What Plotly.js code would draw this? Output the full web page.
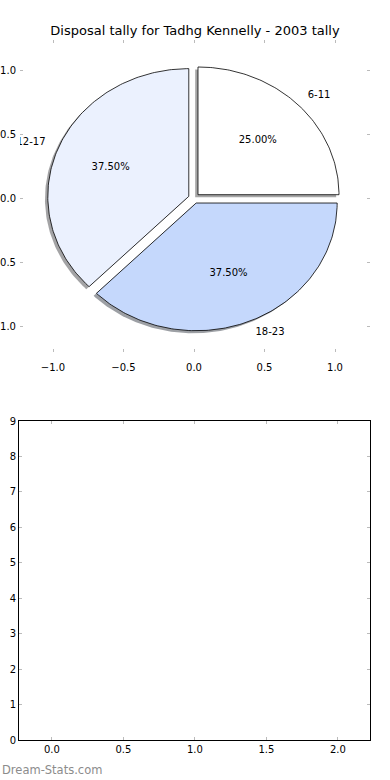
<!DOCTYPE html>
<html>
<head>
<meta charset="utf-8">
<script src="https://cdn.plot.ly/plotly-3.0.1.min.js"></script>
<style>
html,body{margin:0;padding:0;background:#fff;}
#chart{width:390px;height:780px;}
</style>
</head>
<body>
<div id="chart"></div>
<script>
// ---- data ----
var titleText = "Disposal tally for Tadhg Kennelly - 2003 tally";
var categories = ["6-11", "12-17", "18-23"];
var tallies = [2, 3, 3];
var sliceColors = ["#ffffff", "#ebf1fe", "#c5d8fc"];
var pieTicks = [-1.0, -0.5, 0.0, 0.5, 1.0];
var lowerXTicks = [0.0, 0.5, 1.0, 1.5, 2.0];
var lowerYTicks = [0, 1, 2, 3, 4, 5, 6, 7, 8, 9];
var watermark = "Dream-Stats.com";

// ---- geometry helpers (derived from data) ----
var explode = 0.04, radius = 1.0, shadowOff = 0.02;
var total = tallies.reduce(function(a, b){return a + b;}, 0);

function hexToRgb(h){
  h = h.replace('#','');
  return [parseInt(h.substr(0,2),16), parseInt(h.substr(2,2),16), parseInt(h.substr(4,2),16)];
}

var wedgeTraces = [], shadowTraces = [], textTraces = [];
var start = 0;
var labX = [], labY = [], labPos = [], pctX = [], pctY = [], pctT = [];
for (var i = 0; i < tallies.length; i++) {
  var frac = tallies[i] / total;
  var t1 = start, t2 = start + frac * 360;
  var mid = (t1 + t2) / 2 * Math.PI / 180;
  var cx = explode * Math.cos(mid), cy = explode * Math.sin(mid);
  var xs = [cx], ys = [cy];
  var n = Math.max(2, Math.ceil(t2 - t1));
  for (var k = 0; k <= n; k++) {
    var a = (t1 + (t2 - t1) * k / n) * Math.PI / 180;
    xs.push(cx + radius * Math.cos(a));
    ys.push(cy + radius * Math.sin(a));
  }
  xs.push(cx); ys.push(cy);
  var rgb = hexToRgb(sliceColors[i]);
  shadowTraces.push({
    type: 'scatter', mode: 'lines', xaxis: 'x', yaxis: 'y',
    x: xs.map(function(v){return v - shadowOff;}),
    y: ys.map(function(v){return v - shadowOff;}),
    fill: 'toself',
    fillcolor: 'rgba(' + Math.round(rgb[0]*0.3) + ',' + Math.round(rgb[1]*0.3) + ',' + Math.round(rgb[2]*0.3) + ',0.5)',
    line: {width: 0}, hoverinfo: 'skip', showlegend: false
  });
  wedgeTraces.push({
    type: 'scatter', mode: 'lines', xaxis: 'x', yaxis: 'y',
    x: xs, y: ys, fill: 'toself', fillcolor: sliceColors[i],
    line: {color: '#000000', width: 0.8}, hoverinfo: 'skip', showlegend: false
  });
  labX.push(cx + 1.1 * radius * Math.cos(mid));
  labY.push(cy + 1.1 * radius * Math.sin(mid));
  labPos.push(Math.cos(mid) > 0 ? 'middle right' : 'middle left');
  pctX.push(cx + 0.6 * radius * Math.cos(mid));
  pctY.push(cy + 0.6 * radius * Math.sin(mid));
  pctT.push((frac * 100).toFixed(2) + '%');
  start = t2;
}

var font = "DejaVu Sans, sans-serif";
for (var j = 0; j < categories.length; j++) {
  textTraces.push({
    type: 'scatter', mode: 'text', xaxis: 'x', yaxis: 'y',
    x: [labX[j]], y: [labY[j]], text: [categories[j]], textposition: labPos[j],
    textfont: {family: font, size: 10, color: '#000'}, hoverinfo: 'skip', showlegend: false
  });
}
textTraces.push({
  type: 'scatter', mode: 'text', xaxis: 'x', yaxis: 'y',
  x: pctX, y: pctY, text: pctT, textposition: 'middle center',
  textfont: {family: font, size: 10, color: '#000'}, hoverinfo: 'skip', showlegend: false
});

var emptyTrace = {type: 'scatter', mode: 'markers', x: [], y: [], xaxis: 'x2', yaxis: 'y2', showlegend: false, hoverinfo: 'skip'};

var data = shadowTraces.concat(wedgeTraces, textTraces, [emptyTrace]);

var W = 390, H = 780;
function dx(a, b){ return [a / W, b / W]; }
function dy(top, bottom){ return [1 - bottom / H, 1 - top / H]; }

var tickCommon = {
  ticks: 'inside', ticklen: 3, tickwidth: 1, tickcolor: '#bbbbbb',
  tickfont: {family: font, size: 10, color: '#000'},
  showgrid: false, zeroline: false, fixedrange: true
};

var layout = {
  width: W, height: H,
  margin: {l: 0, r: 0, t: 0, b: 0},
  paper_bgcolor: '#ffffff', plot_bgcolor: 'rgba(0,0,0,0)',
  showlegend: false,
  title: {text: titleText, font: {family: font, size: 13, color: '#000'}, x: 0.5, xanchor: 'center', y: 1 - 30 / H, yanchor: 'middle'},
  xaxis: Object.assign({}, tickCommon, {
    domain: dx(20, 370), range: [(20 - 194) / 141, (370 - 194) / 141],
    tickvals: pieTicks, tickformat: '.1f', showline: false, mirror: 'ticks',
    ticklabelstandoff: 8
  }),
  yaxis: Object.assign({}, tickCommon, {
    domain: dy(40, 352), range: [(198.3 - 352) / 127.7, (198.3 - 40) / 127.7],
    tickvals: pieTicks, tickformat: '.1f', showline: false, mirror: 'ticks',
    ticklabelstandoff: 3
  }),
  xaxis2: Object.assign({}, tickCommon, {
    anchor: 'y2', domain: dx(19, 370), range: [-0.23, 2.225],
    tickvals: lowerXTicks, tickformat: '.1f', showline: true, linecolor: '#000', linewidth: 1, mirror: 'ticks'
  }),
  yaxis2: Object.assign({}, tickCommon, {
    anchor: 'x2', domain: dy(421, 740), range: [0, 9],
    tickvals: lowerYTicks, showline: true, linecolor: '#000', linewidth: 1, mirror: 'ticks'
  }),
  annotations: [{
    text: watermark, xref: 'paper', yref: 'paper', x: 0, y: 1 - 770 / H,
    xanchor: 'left', yanchor: 'middle', showarrow: false,
    font: {family: font, size: 11.5, color: '#8c8c8c'}
  }]
};

Plotly.newPlot('chart', data, layout, {staticPlot: true, displayModeBar: false});
</script>
</body>
</html>
